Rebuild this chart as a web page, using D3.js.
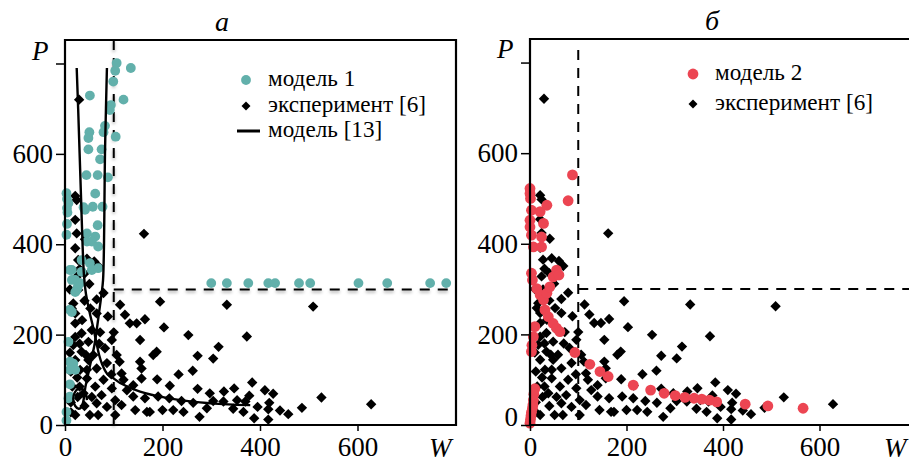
<!DOCTYPE html>
<html>
<head>
<meta charset="utf-8">
<script src="https://cdn.jsdelivr.net/npm/d3@7"></script>
<style>
  body { margin: 0; background: #fff; }
  text { font-family: "Liberation Serif", "Times New Roman", serif; fill: #000; }
</style>
</head>
<body>
<svg id="chart" width="909" height="462"></svg>
<script>
// Experimental points [W, P] (shared by both panels)
const experiment = [
  [29,720],[162,423],[24,498],[21,507],[21,454],[24,424],[41,411],[21,391],[27,365],[45,368],
  [69,351],[24,328],[27,299],[79,292],[65,278],[113,266],[17,269],[195,273],[332,266],[509,262],
  [65,247],[21,247],[123,244],[133,225],[147,225],[164,234],[21,225],[203,216],[55,210],[34,203],
  [253,199],[373,196],[21,195],[154,188],[96,188],[48,184],[17,177],[315,173],[82,170],[188,162],
  [181,155],[34,162],[58,155],[106,155],[272,153],[304,147],[21,144],[48,144],[154,140],[86,137],
  [31,122],[65,125],[157,125],[262,120],[116,114],[233,112],[45,103],[79,100],[157,103],[189,101],
  [62,85],[96,81],[127,77],[215,87],[384,94],[272,80],[347,81],[326,74],[297,70],[410,77],
  [427,69],[378,65],[526,61],[38,70],[75,66],[140,63],[164,59],[191,63],[214,59],[239,53],
  [263,49],[325,52],[353,55],[304,53],[419,49],[628,46],[486,38],[103,55],[65,48],[116,44],
  [86,40],[174,29],[200,33],[222,33],[243,29],[291,37],[366,29],[417,35],[441,32],[458,24],
  [276,18],[388,15],[417,12],[21,22],[51,22],[68,22],[103,22],[144,33],[168,29],
  [10,300],[14,258],[40,275],[52,258],[35,232],[12,118],[25,105],[45,122],[30,85],[12,50],
  [40,42],[55,62],[30,180],[70,180],[95,112],[100,205],[112,140],[50,312],[40,335],[60,362],
  [30,345],[10,160],[15,85],[26,62],[12,28],[43,155],[72,205],[88,240],[120,100],[140,88],
  [370,52],[395,40],[345,36]
];

// Model 1 points [W, P]
const model1 = [
  [106,801],[103,784],[135,790],[99,760],[51,729],[120,720],[94,708],[92,697],[82,662],[79,648],
  [50,648],[104,638],[48,635],[48,610],[75,610],[72,588],[44,553],[67,553],[88,548],[62,512],
  [3,513],[41,476],[57,483],[77,483],[38,482],[7,491],[5,470],[67,442],[3,421],[45,424],
  [62,417],[45,406],[55,406],[68,395],[34,365],[51,358],[14,343],[34,339],[55,343],[68,347],
  [21,321],[31,314],[26,305],[10,343],[14,321],[24,299],[21,294],[10,255],[14,250],[7,184],
  [10,140],[17,136],[21,122],[10,122],[10,90],[7,59],[10,63],[3,29],[3,10],[4,500],[4,480],[4,445],
  [300,314],[332,314],[376,314],[417,314],[431,314],[480,314],[503,314],[602,314],[661,314],
  [749,314],[782,314]
];

// Model 2 points [W, P]
const model2 = [
  [0,522],[0,511],[1,500],[3,474],[0,452],[0,437],[3,419],[7,393],[24,393],[24,415],
  [28,445],[21,471],[35,485],[79,495],[88,552],
  [3,335],[5,320],[14,301],[21,287],[28,276],[35,291],[41,305],[48,327],[55,342],[60,331],
  [31,254],[38,239],[48,224],[55,214],[62,206],
  [10,217],[7,195],[4,176],[3,162],
  [93,160],[124,134],[145,118],[162,107],
  [10,80],[8,68],[7,55],[6,44],[5,37],[3,28],[2,20],[1,12],[0,4],
  [214,88],[250,77],[278,70],[301,65],[321,61],[340,59],[356,57],[372,55],[387,51],
  [446,46],[493,42],[566,37]
];

// Model [13] curves [W, P]
const model13Tail = [
  [24,790],[27,700],[30,600],[33,500],[36,400],[39,330],[43,290],[51,247],[58,215],[64,185],
  [70,155],[76,135],[86,114],[100,103],[113,93],[154,74],[209,60],[277,50],[345,45],[380,44]
];
const model13Loop = [
  [86,790],[84,700],[82,600],[81,500],[80,400],[78,320],[75,290],[70,250],[65,210],[60,175],
  [55,150],[50,125],[45,100],[42,85],[40,70],[38,55],[34,40],[28,36],[21,42],[17,57],
  [20,72],[27,80],[36,79],[43,68],[45,55]
];

const xTicks = [0, 200, 400, 600];
const yTicks = [0, 200, 400, 600, 800];
const yTickLabels = { 0: "0", 200: "200", 400: "400", 600: "600", 800: "" };

const legendLeft = ["модель 1", "эксперимент [6]", "модель [13]"];
const legendRight = ["модель 2", "эксперимент [6]"];
const panelTitles = ["а", "б"];

const TEAL = "#62b0ab";
const RED = "#ec4552";
const SERIF = '"Liberation Serif", "Times New Roman", serif';
const LEGEND_WIDTH = 158; // width of the longest legend entry, px

const svg = d3.select("#chart");
const diamond = d3.symbol().type(d3.symbolSquare).size(54);

// soft shadow used under the dashed guides of the left panel
svg.append("defs").append("filter").attr("id", "soft")
  .attr("x", "-20%").attr("y", "-20%").attr("width", "140%").attr("height", "140%")
  .append("feGaussianBlur").attr("stdDeviation", 1.4);

// legend font size chosen so that the longest entry spans LEGEND_WIDTH
const probe = svg.append("text").style("font-size", "20px").text("эксперимент [6]");
const legendFont = 20 * LEGEND_WIDTH / probe.node().getComputedTextLength();
probe.remove();

function drawPanel(cfg) {
  const x = d3.scaleLinear().domain([0, 800]).range(cfg.xRange);
  const y = d3.scaleLinear().domain([0, 852]).range(cfg.yRange);
  const g = svg.append("g");
  const [xl, xr] = cfg.xRange;
  const [yb, yt] = cfg.yRange;

  const guides = [
    { x1: x(100), x2: x(100), y1: cfg.vDashTop, y2: yb },
    { x1: x(100), x2: cfg.frameRight, y1: y(300), y2: y(300) }
  ];
  if (cfg.shadow) {
    g.append("g").attr("filter", "url(#soft)").selectAll("line").data(guides).join("line")
      .attr("x1", d => d.x1).attr("x2", d => d.x2)
      .attr("y1", d => d.y1 + 2).attr("y2", d => d.y2 + 2)
      .attr("stroke", "#c4c4c4").attr("stroke-width", 3).attr("stroke-dasharray", "10,8");
  }
  // dashed threshold lines at W = 100 and P = 300
  g.append("g").selectAll("line").data(guides).join("line")
    .attr("x1", d => d.x1).attr("x2", d => d.x2)
    .attr("y1", d => d.y1).attr("y2", d => d.y2)
    .attr("stroke", "#000").attr("stroke-width", 2).attr("stroke-dasharray", "10,8");

  // experiment markers
  g.append("g").selectAll("path").data(experiment).join("path")
    .attr("d", diamond)
    .attr("transform", d => `translate(${x(d[0])},${y(d[1])}) rotate(45)`)
    .attr("fill", "#000");

  // model markers
  g.append("g").selectAll("circle").data(cfg.points).join("circle")
    .attr("cx", d => x(d[0])).attr("cy", d => y(d[1]))
    .attr("r", cfg.r).attr("fill", cfg.color);

  if (cfg.curves) {
    const line = d3.line().x(d => x(d[0])).y(d => y(d[1])).curve(d3.curveCatmullRom.alpha(0.5));
    cfg.curves.forEach(c => {
      g.append("path").attr("d", line(c))
        .attr("fill", "none").attr("stroke", "#000").attr("stroke-width", 2.4);
    });
  }

  // axes
  const gx = g.append("g").attr("transform", `translate(0,${yb})`)
    .call(d3.axisBottom(x).tickValues(xTicks).tickSize(6).tickPadding(6).tickFormat(d3.format("d")));
  gx.select(".domain").remove();
  gx.selectAll("line").attr("stroke-width", 1.5);
  gx.selectAll("text").style("font-size", "27px").style("font-family", SERIF);

  const gy = g.append("g").attr("transform", `translate(${xl},0)`)
    .call(d3.axisLeft(y).tickValues(yTicks).tickSize(9).tickPadding(3).tickFormat(d => yTickLabels[d]));
  gy.select(".domain").remove();
  gy.selectAll("line").attr("stroke-width", 1.5);
  gy.selectAll("text").style("font-size", "27px").style("font-family", SERIF);
  if (cfg.zeroShift) gy.selectAll(".tick").filter(d => d === 0).select("text").attr("y", cfg.zeroShift);

  // frame
  g.append("path").attr("d", cfg.frame)
    .attr("fill", "none").attr("stroke", "#000").attr("stroke-width", 2.2);

  // axis names and title
  g.append("text").attr("x", cfg.pLabel[0]).attr("y", cfg.pLabel[1])
    .style("font-size", "27px").attr("font-style", "italic").text("P");
  g.append("text").attr("x", cfg.wLabel[0]).attr("y", cfg.wLabel[1])
    .style("font-size", "27px").attr("font-style", "italic").text("W");
  g.append("text").attr("x", cfg.title[0]).attr("y", cfg.title[1])
    .attr("text-anchor", "middle").style("font-size", "28px").attr("font-style", "italic").text(cfg.titleText);

  // legend
  const lg = g.append("g");
  cfg.legend.forEach((label, i) => {
    const cy = cfg.legendY[i];
    const kind = cfg.legendKinds[i];
    if (kind === "circle") {
      lg.append("circle").attr("cx", cfg.legendX).attr("cy", cy).attr("r", cfg.r).attr("fill", cfg.color);
    } else if (kind === "diamond") {
      lg.append("path").attr("d", d3.symbol().type(d3.symbolSquare).size(40))
        .attr("transform", `translate(${cfg.legendX},${cy}) rotate(45)`).attr("fill", "#000");
    } else {
      lg.append("line").attr("x1", cfg.legendX - 9).attr("x2", cfg.legendX + 14)
        .attr("y1", cy).attr("y2", cy).attr("stroke", "#000").attr("stroke-width", 3);
    }
    lg.append("text").attr("x", cfg.legendTextX).attr("y", cy + 6)
      .style("font-size", legendFont + "px").text(label);
  });
}

drawPanel({
  xRange: [65, 455], yRange: [425, 40], frameRight: 456, vDashTop: 40, shadow: true,
  frame: "M65,40H456V425H65Z",
  points: model1, color: TEAL, r: 4.9,
  curves: [model13Tail, model13Loop],
  pLabel: [32, 60], wLabel: [429, 457], title: [222, 31], titleText: panelTitles[0],
  legend: legendLeft, legendKinds: ["circle", "diamond", "line"],
  legendX: 246, legendTextX: 268, legendY: [80, 106, 131]
});

drawPanel({
  xRange: [530, 916], yRange: [425, 39], frameRight: 909, vDashTop: 50,
  frame: "M909,39H530V425H909",
  points: model2, color: RED, r: 5.4, zeroShift: -8,
  pLabel: [497, 58], wLabel: [884, 457], title: [712, 30], titleText: panelTitles[1],
  legend: legendRight, legendKinds: ["circle", "diamond"],
  legendX: 693, legendTextX: 715, legendY: [74, 104]
});
</script>
</body>
</html>
